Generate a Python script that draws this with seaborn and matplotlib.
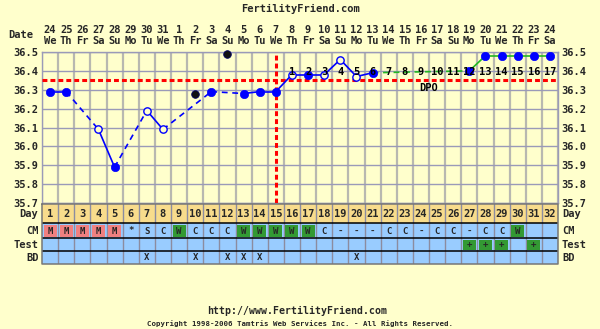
import numpy as np
import pandas as pd
import matplotlib
matplotlib.use("Agg")
import matplotlib.pyplot as plt
from matplotlib.patches import Rectangle
from matplotlib.transforms import blended_transform_factory
import seaborn as sns

# ---------------- data ----------------
days = list(range(1, 33))
dates = [24, 25, 26, 27, 28, 29, 30, 31, 1, 2, 3, 4, 5, 6, 7, 8, 9, 10, 11, 12,
         13, 14, 15, 16, 17, 18, 19, 20, 21, 22, 23, 24]
weekdays = ["We", "Th", "Fr", "Sa", "Su", "Mo", "Tu"] * 4 + ["We", "Th", "Fr", "Sa"]
temps = [36.29, 36.29, np.nan, 36.09, 35.89, np.nan, 36.19, 36.09, np.nan, 36.28,
         36.29, 36.49, 36.28, 36.29, 36.29, 36.38, 36.38, 36.38, 36.46, 36.37,
         36.39, np.nan, np.nan, np.nan, np.nan, np.nan, 36.40, 36.48, 36.48, 36.48,
         36.48, 36.48]
kinds = ["filled", "filled", "", "hollow", "filled", "", "hollow", "hollow", "", "discard",
         "filled", "discard", "filled", "filled", "filled", "hollow", "filled", "hollow",
         "hollow", "hollow", "filled", "", "", "", "", "", "filled", "filled", "filled",
         "filled", "filled", "filled"]
cm = ["M", "M", "M", "M", "M", "*", "S", "C", "W", "C", "C", "C", "W", "W", "W", "W",
      "W", "C", "-", "-", "-", "C", "C", "-", "C", "C", "-", "C", "C", "W", "", ""]
test = [""] * 26 + ["+", "+", "+", "", "+", ""]
bd = ["", "", "", "", "", "", "X", "", "", "X", "", "X", "X", "X", "", "", "", "", "",
      "X", "", "", "", "", "", "", "", "", "", "", "", ""]
dpo_start_day = 16
dpo_numbers = list(range(1, 18))
coverline = 36.35
ovulation_day = 15
temp_ticks = [35.7, 35.8, 35.9, 36.0, 36.1, 36.2, 36.3, 36.4, 36.5]
row_labels = ["Day", "CM", "Test", "BD"]

df = pd.DataFrame({"day": days, "temp": temps, "kind": kinds})

# ---------------- style ----------------
BG = "#ffffcc"
BLUE = "#0000ff"
GREEN = "#22b822"
RED = "#ff0000"
sns.set_theme(style="white")
plt.rcParams["font.family"] = ["DejaVu Sans Mono"]
plt.rcParams["font.weight"] = "bold"
FS = 7.5

W, H = 600, 329
fig = plt.figure(figsize=(W / 100, H / 100), dpi=100, facecolor=BG)


def fx(px):
    return px / W


def fy(py):
    return 1 - py / H


ax = fig.add_axes([fx(42), fy(203), fx(516), 151 / H])
ax.set_facecolor(BG)
ax.set_xlim(0.5, 32.5)
ax.set_ylim(35.7, 36.5)
ax.set_xticks(np.arange(0.5, 33, 1))
ax.set_xticklabels([])
ax.set_yticks(temp_ticks)
ax.set_yticklabels([f"{t:.1f}" for t in temp_ticks], fontsize=FS, fontweight="bold")
ax.tick_params(axis="y", length=0, labelright=True, labelleft=True, pad=2.5)
ax.tick_params(axis="x", length=0)
ax.grid(axis="x", color="#b8b8b0", lw=1.6)
ax.grid(axis="y", color="#9a9ab8", lw=1.0)
for s in ax.spines.values():
    s.set_color("#9a9ab8")
    s.set_linewidth(1)

# coverline / ovulation line
ax.axhline(coverline, color=RED, lw=2.2, ls=(0, (1.6, 1.0)), zorder=3)
ax.axvline(ovulation_day, color=RED, lw=2.2, ls=(0, (1.6, 1.0)), zorder=3)

# connecting lines
valid = df[(df["kind"] != "") & (df["kind"] != "discard")]


def draw_series(sub, color, lw):
    d = sub["day"].tolist()
    t = sub["temp"].tolist()
    for i in range(len(d) - 1):
        ls = "-" if d[i + 1] - d[i] == 1 else (0, (3.5, 2.8))
        ax.plot([d[i], d[i + 1]], [t[i], t[i + 1]], color=color, lw=lw, ls=ls, zorder=4)


draw_series(valid[valid["day"] <= 21], BLUE, 1.2)
draw_series(valid[valid["day"] >= 21], GREEN, 1.2)

# points
f = df[df["kind"] == "filled"]
h = df[df["kind"] == "hollow"]
k = df[df["kind"] == "discard"]
sns.scatterplot(data=f, x="day", y="temp", ax=ax, s=36, color=BLUE, edgecolor=BLUE,
                linewidth=0.5, zorder=6, clip_on=False, legend=False)
sns.scatterplot(data=h, x="day", y="temp", ax=ax, s=28, facecolor=BG, edgecolor=BLUE,
                linewidth=1.0, zorder=6, clip_on=False, legend=False)
sns.scatterplot(data=k, x="day", y="temp", ax=ax, s=30, color="#111111", edgecolor="#000066",
                linewidth=0.6, zorder=6, clip_on=False, legend=False)
ax.set_xlabel("")
ax.set_ylabel("")

# DPO labels
for i, n in enumerate(dpo_numbers):
    ax.text(dpo_start_day + i, 36.395, str(n), ha="center", va="center",
            fontsize=FS, fontweight="bold", color="#000000", zorder=7)
ax.text(24.5, 36.31, "DPO", ha="center", va="center", fontsize=FS,
        fontweight="bold", color="#000000", zorder=7)

# date header
tr = blended_transform_factory(ax.transData, fig.transFigure)
for d, dt, wd in zip(days, dates, weekdays):
    ax.text(d, fy(30), str(dt), transform=tr, ha="center", va="center", fontsize=FS,
            fontweight="bold")
    ax.text(d, fy(41.5), wd, transform=tr, ha="center", va="center", fontsize=FS,
            fontweight="bold")
fig.text(fx(21), fy(35.5), "Date", ha="center", va="center", fontsize=FS, fontweight="bold")

# title and footer
fig.text(0.5, fy(8.5), "FertilityFriend.com", ha="center", va="center", fontsize=FS,
         fontweight="bold")
fig.text(fx(297), fy(311), "http://www.FertilityFriend.com", ha="center", va="center",
         fontsize=7.1, fontweight="bold")
fig.text(fx(300), fy(323.5),
         "Copyright 1998-2006 Tamtris Web Services Inc. - All Rights Reserved.",
         ha="center", va="center", fontsize=5.3, fontweight="bold")

# ---------------- table ----------------
tax = fig.add_axes([fx(42), fy(264), fx(516), 60 / H])
tax.set_xlim(0.5, 32.5)
tax.set_ylim(60, 0)
tax.axis("off")
bounds = [0, 19, 34, 47, 60]
fills = ["#f8dc8c", "#99ccff", "#99ccff", "#99ccff"]
for r in range(4):
    tax.add_patch(Rectangle((0.5, bounds[r]), 32, bounds[r + 1] - bounds[r],
                            facecolor=fills[r], edgecolor="none", zorder=1))
for xb in np.arange(1.5, 32.5, 1):
    tax.plot([xb, xb], [0, 60], color="#8c8ca0", lw=1.0, zorder=2)
for yb in bounds[1:-1]:
    tax.plot([0.5, 32.5], [yb, yb], color="#000000", lw=1.1, zorder=3)
tax.plot([0.5, 32.5, 32.5, 0.5, 0.5], [0, 0, 60, 60, 0], color="#777777", lw=1.1,
         zorder=3, clip_on=False)

for d in days:
    tax.text(d, 10, str(d), ha="center", va="center", fontsize=FS, fontweight="bold", zorder=4)
for d, c in zip(days, cm):
    if c == "M":
        tax.add_patch(Rectangle((d - 0.4, 21), 0.8, 11.5, facecolor="#f08080",
                                edgecolor="none", zorder=3))
    elif c == "W":
        tax.add_patch(Rectangle((d - 0.4, 21), 0.8, 11.5, facecolor="#339933",
                                edgecolor="none", zorder=3))
    if c:
        tax.text(d, 27, c, ha="center", va="center", fontsize=6.5, fontweight="bold", zorder=4)
for d, t in zip(days, test):
    if t:
        tax.add_patch(Rectangle((d - 0.4, 35.5), 0.8, 10, facecolor="#339933",
                                edgecolor="none", zorder=3))
        tax.text(d, 40.7, t, ha="center", va="center", fontsize=6.5, fontweight="bold", zorder=4)
for d, b in zip(days, bd):
    if b:
        tax.text(d, 54, b, ha="center", va="center", fontsize=6.5, fontweight="bold", zorder=4)

trl = blended_transform_factory(fig.transFigure, tax.transData)
centers = [10, 27, 40.5, 54]
for lab, cy in zip(row_labels, centers):
    tax.text(fx(38.5), cy, lab, transform=trl, ha="right", va="center", fontsize=FS,
             fontweight="bold", clip_on=False)
    tax.text(fx(562), cy, lab, transform=trl, ha="left", va="center", fontsize=FS,
             fontweight="bold", clip_on=False)

fig.savefig("out.png", dpi=100, facecolor=BG)
